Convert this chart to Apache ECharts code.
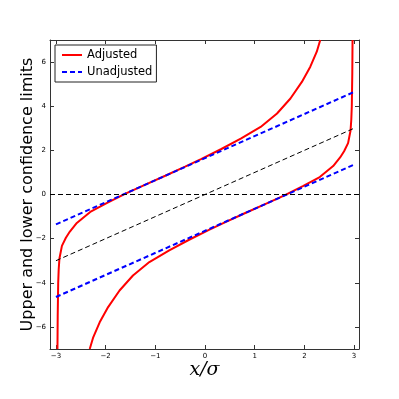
<!DOCTYPE html>
<html>
<head>
<meta charset="utf-8">
<script src="https://cdn.jsdelivr.net/npm/echarts@6/dist/echarts.min.js"></script>
<style>html,body{margin:0;padding:0;background:#fff}#main{width:399px;height:399px}</style>
</head>
<body>
<div id="main"></div>
<script>
// adjusted limits
const adjAX = [-2.97, -2.965, -2.955, -2.945, -2.93, -2.88, -2.8, -2.72, -2.58, -2.31, -1.97, -1.6, -1.2, -0.8, -0.4, -0.08, 0.32, 0.72, 1.12, 1.45, 1.72, 1.95, 2.12, 2.25, 2.32];
const adjAY = [-7, -5.5, -4.0, -3.4, -2.9, -2.33, -1.96, -1.68, -1.29, -0.79, -0.38, 0.04, 0.45, 0.85, 1.26, 1.6, 2.05, 2.53, 3.06, 3.67, 4.35, 5.1, 5.79, 6.47, 7];
const adjBX = [-2.32, -2.25, -2.12, -1.95, -1.72, -1.45, -1.12, -0.72, -0.32, 0.08, 0.4, 0.8, 1.2, 1.6, 1.97, 2.31, 2.58, 2.72, 2.8, 2.88, 2.93, 2.945, 2.955, 2.965, 2.97];
const adjBY = [-7, -6.47, -5.79, -5.1, -4.35, -3.67, -3.06, -2.53, -2.05, -1.6, -1.26, -0.85, -0.45, -0.04, 0.38, 0.79, 1.29, 1.68, 1.96, 2.33, 2.9, 3.4, 4.0, 5.5, 7];
// unadjusted limits
const unadjX = [-3, 3];
const unadjUpper = [-1.355, 4.645];
const unadjLower = [-4.645, 1.355];
// reference lines
const diagX = [-3, 3];
const diagY = [-3, 3];
const zeroX = [-3.12, 3.1];
const zeroY = [0, 0];

const xTicks = [-3, -2, -1, 0, 1, 2, 3];
const yTicks = [-6, -4, -2, 0, 2, 4, 6];

const zip = (xs, ys) => xs.map((x, i) => [x, ys[i]]);
const fmt = v => String(v).replace('-', '\u2212');

var chartDom = document.getElementById('main');
var myChart = echarts.init(chartDom);

const frame = { show: true, onZero: false, lineStyle: { color: '#333', width: 1 } };
const tick = { inside: true, length: 4, lineStyle: { color: '#333' } };

function axis(pos, ticks, min, max, labels) {
    return {
        type: 'value', position: pos, min: min, max: max,
        axisLine: frame,
        axisTick: Object.assign({ customValues: ticks }, tick),
        axisLabel: {
            show: labels, customValues: ticks, formatter: fmt,
            fontSize: 7, color: '#000', fontFamily: 'DejaVu Sans', margin: 4
        },
        splitLine: { show: false }
    };
}

const xAx = axis('bottom', xTicks, -3.12, 3.1, true);
xAx.name = 'x/σ';
xAx.nameLocation = 'middle';
xAx.nameGap = 12;
xAx.nameMoveOverlap = false;
xAx.nameTextStyle = { fontSize: 19, fontStyle: 'italic', fontFamily: 'DejaVu Serif', color: '#000', verticalAlign: 'top' };
const yAx = axis('left', yTicks, -7, 7, true);
yAx.name = 'Upper and lower confidence limits';
yAx.nameLocation = 'middle';
yAx.nameGap = 14;
yAx.nameMoveOverlap = false;
yAx.nameTextStyle = { fontSize: 16, fontFamily: 'DejaVu Sans', color: '#000' };

function line(name, data, color, width, dashed) {
    return {
        name: name, type: 'line', data: data, symbol: 'none', smooth: false,
        xAxisIndex: 0, yAxisIndex: 0, clip: true, silent: true,
        lineStyle: { color: color, width: width, type: dashed ? [5, 3] : 'solid' },
        itemStyle: { color: color }
    };
}

var option = {
    animation: false,
    grid: { left: 50, right: 40, top: 40, bottom: 50 },
    legend: {
        data: ['Adjusted', 'Unadjusted'],
        orient: 'vertical', left: 55, top: 45,
        itemWidth: 20, itemHeight: 10, itemGap: 5,
        itemStyle: { opacity: 0 },
        backgroundColor: '#fff', borderColor: '#222', borderWidth: 1,
        padding: [4, 4, 4, 6],
        textStyle: { fontSize: 11.5, fontFamily: 'DejaVu Sans', color: '#000' }
    },
    xAxis: [xAx, axis('top', xTicks, -3.12, 3.1, false)],
    yAxis: [yAx, axis('right', yTicks, -7, 7, false)],
    series: [
        line('Adjusted', zip(adjAX, adjAY), '#ff0000', 2, false),
        line('Adjusted', zip(adjBX, adjBY), '#ff0000', 2, false),
        line('Unadjusted', zip(unadjX, unadjUpper), '#0000ff', 2, true),
        line('Unadjusted', zip(unadjX, unadjLower), '#0000ff', 2, true),
        line('diag', zip(diagX, diagY), '#000', 1, true),
        line('zero', zip(zeroX, zeroY), '#000', 1, true)
    ]
};

option && myChart.setOption(option);
</script>
</body>
</html>
